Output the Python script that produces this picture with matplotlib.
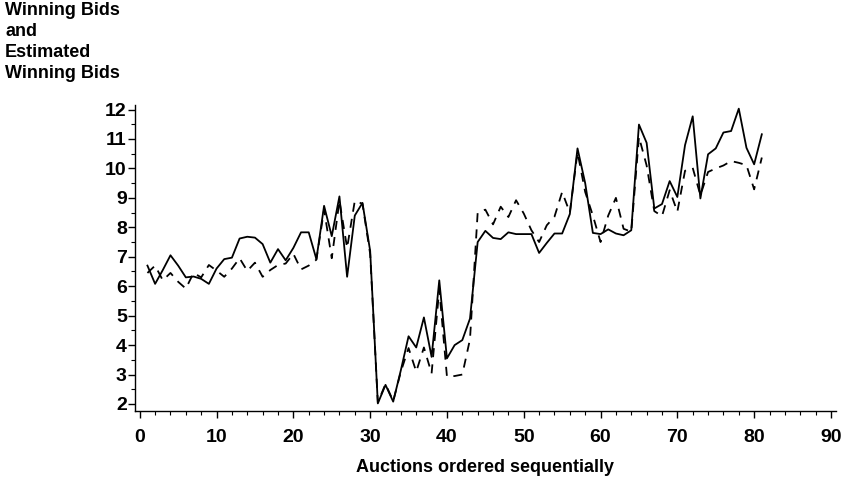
# -*- coding: utf8
'''
Winning bids and estimated winning bids, auctions in sequential order.
'''
from matplotlib import pyplot as plt
from matplotlib.ticker import MultipleLocator

auction = list(range(1, 82))

winning_bids = [
    6.7, 6.08, 6.55, 7.05, 6.7, 6.3, 6.33, 6.25, 6.08, 6.6,
    6.92, 6.97, 7.62, 7.68, 7.65, 7.43, 6.8, 7.26, 6.88, 7.3,
    7.83, 7.83, 6.92, 8.73, 7.7, 9.05, 6.32, 8.4, 8.83, 7.2,
    2.02, 2.65, 2.08, 3.15, 4.3, 3.92, 4.94, 3.6, 6.2, 3.55,
    4.0, 4.17, 4.9, 7.5, 7.88, 7.64, 7.6, 7.83, 7.77, 7.77,
    7.77, 7.13, 7.47, 7.79, 7.79, 8.45, 10.68, 9.5, 7.81, 7.77,
    7.93, 7.79, 7.73, 7.9, 11.49, 10.87, 8.64, 8.79, 9.57, 9.03,
    10.79, 11.77, 8.98, 10.48, 10.68, 11.22, 11.27, 12.03, 10.7, 10.14,
    11.16,
]

estimated_bids = [
    6.45, 6.7, 6.2, 6.45, 6.15, 5.92, 6.45, 6.3, 6.72, 6.53,
    6.32, 6.6, 6.95, 6.52, 6.8, 6.32, 6.55, 6.72, 6.77, 7.1,
    6.57, 6.7, 6.9, 8.6, 6.95, 8.9, 7.3, 8.9, 8.8, 7.1,
    2.05, 2.68, 2.1, 3.1, 3.9, 3.1, 3.92, 3.04, 5.9, 2.93,
    2.95, 3.0, 4.2, 8.5, 8.6, 8.1, 8.7, 8.35, 8.92, 8.47,
    7.9, 7.5, 8.07, 8.36, 9.2, 8.5, 10.55, 9.2, 8.4, 7.5,
    8.4, 9.0, 7.95, 7.85, 11.07, 10.1, 8.55, 8.38, 9.26, 8.53,
    9.92, 10.02, 9.09, 9.88, 10.0, 10.1, 10.25, 10.19, 10.11, 9.29,
    10.37,
]

y_title = 'Winning Bids\nand\nEstimated\nWinning Bids'
x_title = 'Auctions ordered sequentially'


def main():
    plt.rcParams['font.family'] = ['Liberation Sans', 'DejaVu Sans']
    plt.rcParams['font.weight'] = 'bold'

    fig = plt.figure(figsize=(8.5, 4.8), dpi=100)
    ax = fig.add_axes([0.159, 0.143, 0.824, 0.638])

    ax.plot(auction, winning_bids, color='black', lw=1.3)
    ax.plot(auction, estimated_bids, color='black', lw=1.3,
            linestyle=(0, (5, 4)))

    ax.set_xlim(-0.6, 90.6)
    ax.set_ylim(1.75, 12.15)
    ax.xaxis.set_major_locator(MultipleLocator(10))
    ax.xaxis.set_minor_locator(MultipleLocator(2))
    ax.yaxis.set_major_locator(MultipleLocator(1))
    ax.yaxis.set_minor_locator(MultipleLocator(0.5))

    for side in ('top', 'right'):
        ax.spines[side].set_visible(False)
    for side in ('left', 'bottom'):
        ax.spines[side].set_linewidth(1.0)

    ax.tick_params(which='major', direction='out', length=5, width=1.0,
                   labelsize=14)
    ax.tick_params(which='minor', direction='out', length=3, width=0.8)
    ax.tick_params(axis='y', which='major', pad=1)
    ax.tick_params(axis='x', which='major', pad=8)

    fig.text(0.006, 0.995, y_title, ha='left', va='top', fontsize=13,
             fontweight='bold', linespacing=1.3)
    ax.set_xlabel(x_title, fontsize=13, fontweight='bold', labelpad=9)

    fig.savefig('out.png', dpi=100)


if __name__ == '__main__':
    main()
